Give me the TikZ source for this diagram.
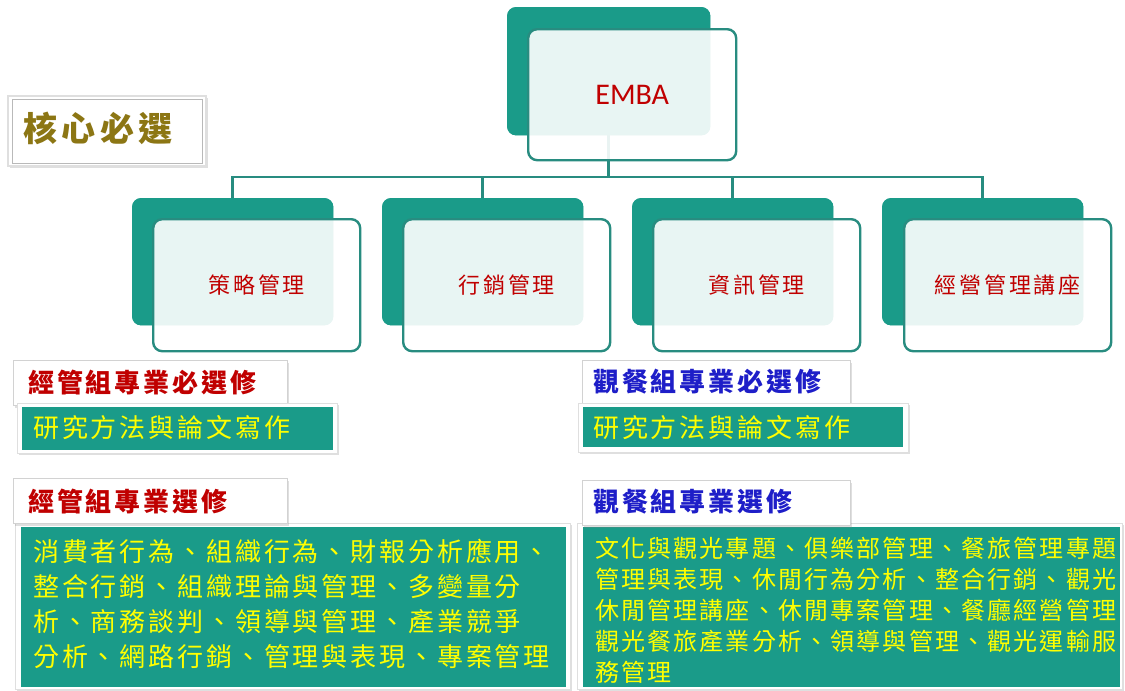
\documentclass[tikz,border=0pt]{standalone}
\usepackage{fontspec}
\setmainfont{Carlito}
\newfontfamily\cjk{Noto Sans CJK TC}
\newfontfamily\cjkL{Noto Sans CJK TC}[LetterSpace=11]
\newfontfamily\cjkR{Noto Sans CJK TC}[LetterSpace=9]
\newfontfamily\cjkC{Noto Sans CJK TC}[LetterSpace=13]
\usetikzlibrary{shadows}
\definecolor{tealA}{RGB}{26,155,137}
\definecolor{tealB}{RGB}{40,140,128}
\definecolor{txtred}{RGB}{192,0,0}
\definecolor{txtblue}{RGB}{30,30,200}
\definecolor{txtolive}{RGB}{140,118,20}
\definecolor{txtyel}{RGB}{255,255,0}
\tikzset{
  backbox/.style={fill=tealA, draw=none, rounded corners=9pt, anchor=north west, inner sep=0pt},
  frontbox/.style={fill=white, fill opacity=0.9, text opacity=1, draw=tealB, line width=2.4pt,
     rounded corners=9pt, anchor=north west, inner sep=0pt, draw opacity=1},
  conn/.style={draw=tealB, line width=2.6pt, line join=miter},
  lblframe/.style={fill=white, draw=gray!35, line width=1pt, anchor=north west, inner sep=0pt,
     drop shadow={opacity=0.25, shadow xshift=1.5pt, shadow yshift=-2pt}},
  gframe/.style={fill=white, draw=gray!25, line width=0.6pt, anchor=north west, inner sep=0pt,
     drop shadow={opacity=0.25, shadow xshift=1.5pt, shadow yshift=-2pt}},
  gbox/.style={fill=tealA, draw=none, anchor=north west, inner sep=0pt},
  childtxt/.style={font=\cjkC\fontsize{22}{26}\selectfont, text=txtred},
  lbltxt/.style={font=\cjkL\bfseries\fontsize{26}{30}\selectfont, anchor=west, inner sep=0pt},
  yeltxt/.style={font=\cjkL\fontsize{26}{30}\selectfont, text=txtyel, anchor=west, inner sep=0pt},
}
\begin{document}
\begin{tikzpicture}[x=1pt,y=-1pt]
\useasboundingbox (0,0) rectangle (1125,691);
\fill[white] (0,0) rectangle (1125,691);

% ---------- back boxes and connectors ----------
\coordinate (bus) at (0,177);
\node[backbox, minimum width=203pt, minimum height=128pt] (embaB) at (507,7) {};
\node[backbox, minimum width=201pt, minimum height=127pt] (c1B) at (132,198) {};
\node[backbox, minimum width=201pt, minimum height=127pt] (c2B) at (382,198) {};
\node[backbox, minimum width=201pt, minimum height=127pt] (c3B) at (632,198) {};
\node[backbox, minimum width=201pt, minimum height=127pt] (c4B) at (882,198) {};

\draw[conn] (embaB.south) -- (embaB.south |- bus);
\draw[conn] (c1B.north) -- (c1B.north |- bus) -- (c4B.north |- bus) -- (c4B.north);
\draw[conn] (c2B.north |- bus) -- (c2B.north);
\draw[conn] (c3B.north |- bus) -- (c3B.north);

\fill[tealA, rounded corners=9pt] (embaB.north west) rectangle (embaB.south east);
\foreach \n in {c1B,c2B,c3B,c4B}{\fill[tealA, rounded corners=9pt] (\n.north west) rectangle (\n.south east);}

% ---------- front boxes ----------
\node[frontbox, minimum width=208pt, minimum height=131pt] (embaF) at (527,28) {};
\node[font=\fontsize{30}{34}\selectfont, text=txtred] (embaT) at (embaF.center) {EMBA};

\node[frontbox, minimum width=207pt, minimum height=132pt] (c1F) at (152,218) {};
\node[frontbox, minimum width=207pt, minimum height=132pt] (c2F) at (402,218) {};
\node[frontbox, minimum width=207pt, minimum height=132pt] (c3F) at (652,218) {};
\node[frontbox, minimum width=207pt, minimum height=132pt] (c4F) at (903,218) {};
\node[childtxt] (c1T) at (c1F.center) {策略管理};
\node[childtxt] (c2T) at (c2F.center) {行銷管理};
\node[childtxt] (c3T) at (c3F.center) {資訊管理};
\node[childtxt] (c4T) at (c4F.center) {經營管理講座};

% ---------- 核心必選 ----------
\node[lblframe, draw=gray!25, line width=2pt, minimum width=198pt, minimum height=70pt] (coreF) at (7,95) {};
\draw[gray!55, line width=0.7pt] ([shift={(5pt,-4pt)}]coreF.north west) rectangle ([shift={(-5pt,4pt)}]coreF.south east);
\node[font=\cjkC\bfseries\fontsize{34}{40}\selectfont, text=txtolive, anchor=west, inner sep=0pt] (coreT) at (23,128) {核心必選};

% ---------- left column ----------
\node[lblframe, minimum width=274pt, minimum height=45pt] (l1F) at (13,360) {};
\node[lbltxt, text=txtred] (l1T) at (28,383) {經管組專業必選修};
\node[gframe, minimum width=320pt, minimum height=50pt] (l2F) at (17,403) {};
\node[gbox, minimum width=311pt, minimum height=43pt] (l2B) at (22,407) {};
\node[yeltxt] (l2T) at (33,428) {研究方法與論文寫作};

\node[gframe, minimum width=555pt, minimum height=166pt] (l4F) at (15,523) {};
\node[gbox, minimum width=545pt, minimum height=160pt] (l4B) at (21,527) {};
\node[lblframe, minimum width=274pt, minimum height=45pt] (l3F) at (13,478) {};
\node[lbltxt, text=txtred] (l3T) at (28,502) {經管組專業選修};
\node[font=\cjkL\fontsize{26}{35}\selectfont, text=txtyel, anchor=north west, inner sep=0pt, align=left] (l4T) at (33,539)
 {消費者行為、組織行為、財報分析應用、\\整合行銷、組織理論與管理、多變量分\\析、商務談判、領導與管理、產業競爭\\分析、網路行銷、管理與表現、專案管理};

% ---------- right column ----------
\node[lblframe, minimum width=268pt, minimum height=43pt] (r1F) at (582,360) {};
\node[lbltxt, text=txtblue] (r1T) at (593,382) {觀餐組專業必選修};
\node[gframe, minimum width=330pt, minimum height=49pt] (r2F) at (578,403) {};
\node[gbox, minimum width=320pt, minimum height=40pt] (r2B) at (583,407) {};
\node[yeltxt] (r2T) at (593,428) {研究方法與論文寫作};

\node[gframe, minimum width=545pt, minimum height=166pt] (r4F) at (577,523) {};
\node[gbox, minimum width=537pt, minimum height=160pt] (r4B) at (583,527) {};
\node[lblframe, minimum width=268pt, minimum height=45pt] (r3F) at (582,480) {};
\node[lbltxt, text=txtblue] (r3T) at (593,502) {觀餐組專業選修};
\node[font=\cjkR\fontsize{24}{31}\selectfont, text=txtyel, anchor=north west, inner sep=0pt, align=left] (r4T) at (595,537)
 {文化與觀光專題、俱樂部管理、餐旅管理專題\\管理與表現、休閒行為分析、整合行銷、觀光\\休閒管理講座、休閒專案管理、餐廳經營管理\\觀光餐旅產業分析、領導與管理、觀光運輸服\\務管理};
\end{tikzpicture}
\end{document}
